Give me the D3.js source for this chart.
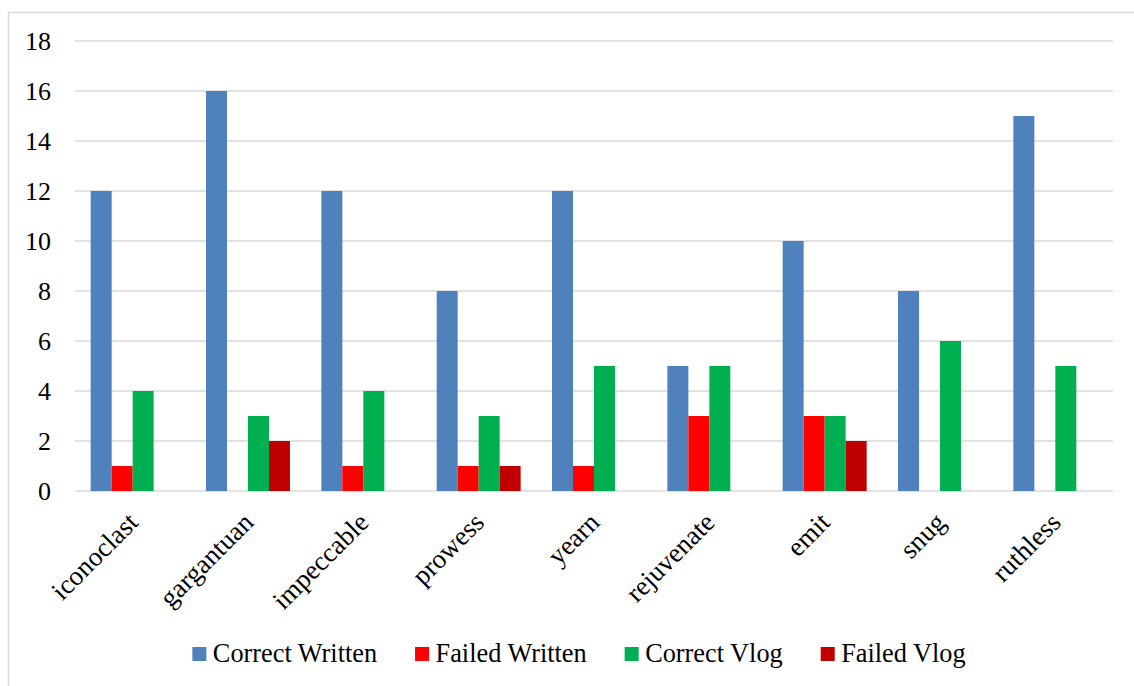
<!DOCTYPE html>
<html>
<head>
<meta charset="utf-8">
<script src="https://cdn.jsdelivr.net/npm/d3@7"></script>
<style>
  html, body { margin: 0; padding: 0; background: #fff; }
  svg { display: block; }
</style>
</head>
<body>
<svg id="chart" width="1134" height="686"></svg>
<script>
// Words tested and the four outcome series
const categories = ["iconoclast", "gargantuan", "impeccable", "prowess", "yearn", "rejuvenate", "emit", "snug", "ruthless"];
const seriesNames = ["Correct Written", "Failed Written", "Correct Vlog", "Failed Vlog"];
const correctWritten = [12, 16, 12, 8, 12, 5, 10, 8, 15];
const failedWritten  = [1, 0, 1, 1, 1, 3, 3, 0, 0];
const correctVlog    = [4, 3, 4, 3, 5, 5, 3, 6, 5];
const failedVlog     = [0, 2, 0, 1, 0, 0, 2, 0, 0];
const yTicks = [0, 2, 4, 6, 8, 10, 12, 14, 16, 18];
const colors = ["#4F81BD", "#FF0000", "#00B050", "#C00000"];

const seriesValues = [correctWritten, failedWritten, correctVlog, failedVlog];
const FONT = "Liberation Serif";

const svg = d3.select("#chart").style("font-family", FONT);
const plot = { left: 75, right: 1113, top: 41, bottom: 491 };

// Chart frame
svg.append("rect")
  .attr("x", 8.5).attr("y", 12.5)
  .attr("width", 1300).attr("height", 900)
  .attr("fill", "#fff").attr("stroke", "#D9D9D9").attr("stroke-width", 1.5);

const x0 = d3.scaleBand().domain(categories).range([plot.left, plot.right]).padding(0);
const bw = x0.bandwidth();
const groupW = bw * 0.728;
const x1 = d3.scaleBand().domain(seriesNames)
  .range([(bw - groupW) / 2, (bw + groupW) / 2]).padding(0);
const y = d3.scaleLinear().domain([0, 18]).range([plot.bottom, plot.top]);

// Gridlines
svg.append("g")
  .selectAll("line").data(yTicks).join("line")
  .attr("x1", plot.left).attr("x2", plot.right)
  .attr("y1", d => y(d)).attr("y2", d => y(d))
  .attr("stroke", "#D9D9D9").attr("stroke-width", 1.5);

// Y axis labels
const yAxis = d3.axisLeft(y).tickValues(yTicks).tickSize(0).tickPadding(0);
const gy = svg.append("g").attr("transform", `translate(${plot.left - 24},0)`).call(yAxis)
  .attr("font-family", FONT).attr("font-size", 26);
gy.select(".domain").remove();
gy.selectAll("text").attr("fill", "#000").attr("dy", "0.34em");

// Bars
const rows = categories.map((c, i) => ({ cat: c, vals: seriesNames.map((s, j) => ({ s, j, v: seriesValues[j][i] })) }));
svg.append("g").selectAll("g").data(rows).join("g")
  .attr("transform", d => `translate(${x0(d.cat)},0)`)
  .selectAll("rect").data(d => d.vals.filter(e => e.v > 0)).join("rect")
  .attr("x", d => x1(d.s))
  .attr("width", x1.bandwidth())
  .attr("y", d => y(d.v))
  .attr("height", d => y(0) - y(d.v))
  .attr("fill", d => colors[d.j]);

// Category labels, rotated
const xAxis = d3.axisBottom(x0).tickSize(0).tickPadding(0);
const gx = svg.append("g").attr("transform", `translate(0,${plot.bottom})`).call(xAxis)
  .attr("font-family", FONT).attr("font-size", 27);
gx.select(".domain").remove();
gx.selectAll(".tick text")
  .attr("fill", "#000")
  .attr("text-anchor", "end")
  .attr("dy", "0")
  .attr("y", 0)
  .attr("transform", "translate(7,33) rotate(-45)");

// Legend
const legend = svg.append("g").attr("font-family", FONT).attr("font-size", 26.3);
const items = legend.selectAll("g").data(seriesNames).join("g");
items.append("rect").attr("width", 14).attr("height", 14).attr("y", -15)
  .attr("fill", (d, i) => colors[i]);
items.append("text").attr("x", 20.5).attr("y", 0).attr("fill", "#000").text(d => d);
let cx = 0;
items.each(function () {
  const g = d3.select(this);
  g.attr("transform", `translate(${cx},0)`);
  cx += 20.5 + g.select("text").node().getComputedTextLength() + 38;
});
const totalW = cx - 38;
legend.attr("transform", `translate(${579 - totalW / 2},662)`);
</script>
</body>
</html>
